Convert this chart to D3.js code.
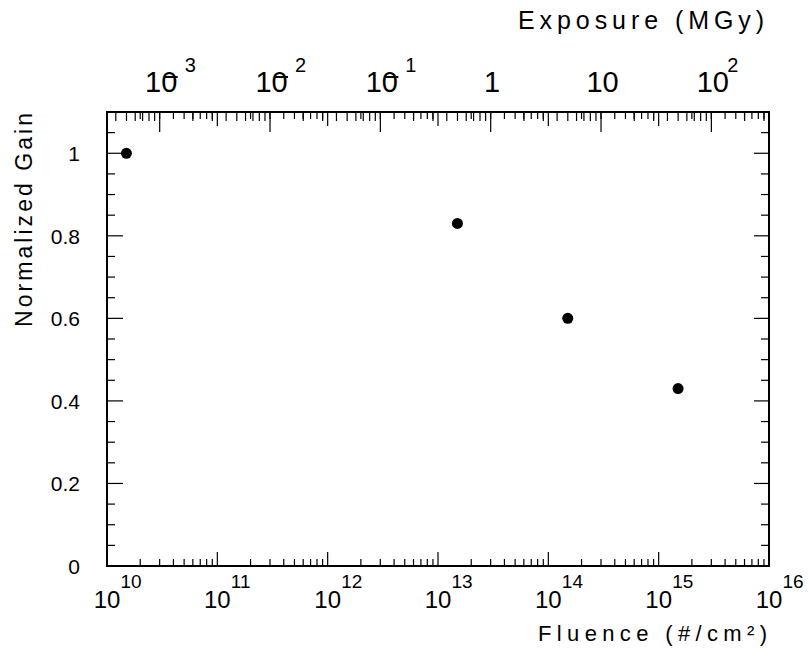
<!DOCTYPE html>
<html>

<head>
	<script src="https://d3js.org/d3.v7.min.js"></script>

	<title> Normalized Gain vs Fluence </title>

	<style>
		html,
		body {
			margin: 0;
			padding: 0;
			background: white;
		}

		svg {
			display: block;
			font-family: "Liberation Sans", Arial, Helvetica, sans-serif;
		}

		.frame {
			fill: none;
			stroke: black;
			stroke-width: 2px;
		}

		.tick {
			stroke: black;
			stroke-width: 1.2px;
		}
	</style>
</head>

<body>

	<div id="myDiv">
		<svg width="809" height="657">
		</svg>
	</div>

	<script>

		// data
		const fluence = [1.5e10, 1.5e13, 1.5e14, 1.5e15];		// #/cm^2
		const gain = [1.0, 0.83, 0.60, 0.43];				// normalized gain

		// tick labels
		const fluenceExponents = [10, 11, 12, 13, 14, 15, 16];
		const exposureLabels = [
			{ value: 1e-3, base: "10", exp: "3", neg: true },
			{ value: 1e-2, base: "10", exp: "2", neg: true },
			{ value: 1e-1, base: "10", exp: "1", neg: true },
			{ value: 1, base: "1", exp: "", neg: false },
			{ value: 10, base: "10", exp: "", neg: false },
			{ value: 100, base: "10", exp: "2", neg: false }
		];
		const gainTicks = [0, 0.2, 0.4, 0.6, 0.8, 1];

		const fluenceToMGy = 3.33e-14;		// conversion used for the top axis

		// frame of the plot
		const plotLeft = 107, plotRight = 769, plotTop = 112, plotBottom = 566;

		const x = d3.scaleLog().domain([1e10, 1e16]).range([plotLeft, plotRight]);
		const xTop = d3.scaleLog().domain([1e10 * fluenceToMGy, 1e16 * fluenceToMGy]).range([plotLeft, plotRight]);
		const y = d3.scaleLinear().domain([0, 1.1]).range([plotBottom, plotTop]);

		const svg = d3.select("svg");

		// ---- ticks on a log scale: decades (major) and 2..9 (minor)
		function logTicks(scale) {
			const d = scale.domain();
			const out = [];
			const lo = Math.floor(Math.log10(d[0])), hi = Math.ceil(Math.log10(d[1]));
			for (let e = lo; e <= hi; e++) {
				for (let k = 1; k <= 9; k++) {
					const v = k * Math.pow(10, e);
					if (v >= d[0] * 0.9999 && v <= d[1] * 1.0001) out.push({ v: v, major: k === 1 });
				}
			}
			return out;
		}

		const fTicks = logTicks(x);
		const eTicks = logTicks(xTop);

		// bottom axis ticks (pointing up)
		svg.selectAll(".tick-b")
			.data(fTicks)
			.enter()
			.append("line")
			.attr("class", "tick")
			.attr("x1", d => x(d.v)).attr("x2", d => x(d.v))
			.attr("y1", plotBottom).attr("y2", d => plotBottom - (d.major ? 14 : 7));

		// mirrored fluence ticks on top
		svg.selectAll(".tick-tm")
			.data(fTicks)
			.enter()
			.append("line")
			.attr("class", "tick")
			.attr("x1", d => x(d.v)).attr("x2", d => x(d.v))
			.attr("y1", plotTop).attr("y2", d => plotTop + (d.major ? 14 : 7));

		// exposure ticks on top
		svg.selectAll(".tick-t")
			.data(eTicks)
			.enter()
			.append("line")
			.attr("class", "tick")
			.attr("x1", d => xTop(d.v)).attr("x2", d => xTop(d.v))
			.attr("y1", plotTop).attr("y2", d => plotTop + (d.major ? 20 : 9));

		// left / right ticks every 0.05, major every 0.2
		const yTicks = d3.range(0, 1.1001, 0.05).map(v => ({ v: v, major: Math.abs(v / 0.2 - Math.round(v / 0.2)) < 1e-6 }));

		svg.selectAll(".tick-l")
			.data(yTicks)
			.enter()
			.append("line")
			.attr("class", "tick")
			.attr("x1", plotLeft).attr("x2", d => plotLeft + (d.major ? 16 : 8))
			.attr("y1", d => y(d.v)).attr("y2", d => y(d.v));

		svg.selectAll(".tick-r")
			.data(yTicks)
			.enter()
			.append("line")
			.attr("class", "tick")
			.attr("x1", plotRight).attr("x2", d => plotRight - (d.major ? 15 : 8))
			.attr("y1", d => y(d.v)).attr("y2", d => y(d.v));

		// frame
		svg.append("rect")
			.attr("class", "frame")
			.attr("x", plotLeft).attr("y", plotTop)
			.attr("width", plotRight - plotLeft).attr("height", plotBottom - plotTop);

		// ---- labels
		// bottom: 10^n
		svg.selectAll(".lab-b")
			.data(fluenceExponents)
			.enter()
			.append("text")
			.attr("x", d => x(Math.pow(10, d)))
			.attr("y", 608)
			.attr("text-anchor", "middle")
			.style("font-size", "24px")
			.text("10");

		svg.selectAll(".sup-b")
			.data(fluenceExponents)
			.enter()
			.append("text")
			.attr("x", d => x(Math.pow(10, d)) + 13.5)
			.attr("y", 588)
			.style("font-size", "19px")
			.text(d => d);

		// top: exposure labels
		svg.selectAll(".lab-t")
			.data(exposureLabels)
			.enter()
			.append("text")
			.attr("x", d => xTop(d.value) + 1.5)
			.attr("y", 91.5)
			.attr("text-anchor", "middle")
			.style("font-size", "29px")
			.text(d => d.base);

		svg.selectAll(".sup-t")
			.data(exposureLabels.filter(d => d.exp !== ""))
			.enter()
			.append("text")
			.attr("x", d => xTop(d.value) + (d.neg ? 25 : 16))
			.attr("y", 72)
			.style("font-size", "20px")
			.text(d => d.exp);

		// the minus sign of negative exponents sits over the "0"
		svg.selectAll(".minus-t")
			.data(exposureLabels.filter(d => d.neg))
			.enter()
			.append("line")
			.attr("x1", d => xTop(d.value) + 5)
			.attr("x2", d => xTop(d.value) + 18)
			.attr("y1", 77).attr("y2", 77)
			.attr("stroke", "black")
			.attr("stroke-width", 2);

		// left labels
		svg.selectAll(".lab-l")
			.data(gainTicks)
			.enter()
			.append("text")
			.attr("x", 80)
			.attr("y", d => y(d) + 8)
			.attr("text-anchor", "end")
			.style("font-size", "21px")
			.text(d => d3.format("~g")(d));

		// axis titles
		svg.append("text")
			.attr("x", 538).attr("y", 641)
			.attr("textLength", 229).attr("lengthAdjust", "spacing")
			.style("font-size", "22px")
			.text("Fluence (#/cm²)");

		svg.append("text")
			.attr("x", 518).attr("y", 28.5)
			.attr("textLength", 246).attr("lengthAdjust", "spacing")
			.style("font-size", "25px")
			.text("Exposure (MGy)");

		svg.append("text")
			.attr("transform", "translate(31.5,327) rotate(-90)")
			.attr("textLength", 214).attr("lengthAdjust", "spacing")
			.style("font-size", "23px")
			.text("Normalized Gain");

		// ---- data points
		svg.selectAll("circle")
			.data(fluence)
			.enter()
			.append("circle")
			.attr("cx", d => x(d))
			.attr("cy", (d, i) => y(gain[i]))
			.attr("r", 5.5)
			.attr("fill", "black");

	</script>

</body>

</html>
